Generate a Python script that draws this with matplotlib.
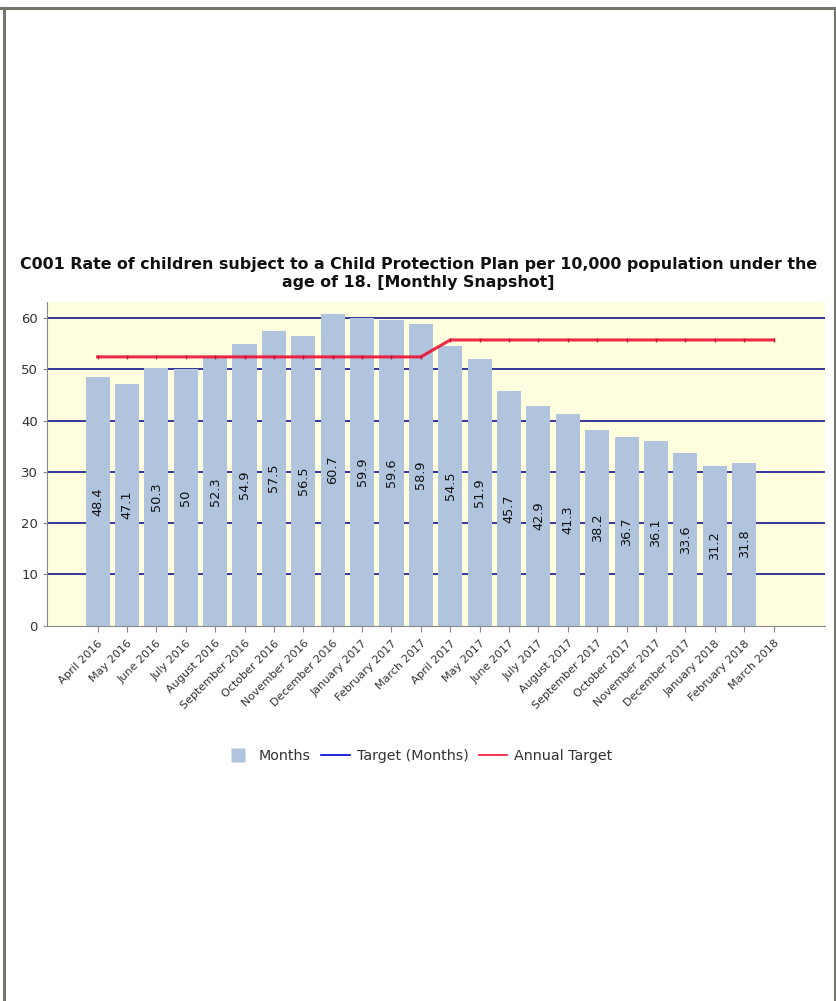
import matplotlib
matplotlib.use("Agg")
import matplotlib.pyplot as plt
from matplotlib.lines import Line2D

months = ["April 2016", "May 2016", "June 2016", "July 2016", "August 2016",
          "September 2016", "October 2016", "November 2016", "December 2016",
          "January 2017", "February 2017", "March 2017", "April 2017", "May 2017",
          "June 2017", "July 2017", "August 2017", "September 2017", "October 2017",
          "November 2017", "December 2017", "January 2018", "February 2018", "March 2018"]
values = [48.4, 47.1, 50.3, 50, 52.3, 54.9, 57.5, 56.5, 60.7, 59.9, 59.6, 58.9,
          54.5, 51.9, 45.7, 42.9, 41.3, 38.2, 36.7, 36.1, 33.6, 31.2, 31.8]
annual_target = [52.4] * 12 + [55.7] * 12
yticks = [0, 10, 20, 30, 40, 50, 60]
title = ("C001 Rate of children subject to a Child Protection Plan per 10,000 population under the\n"
         "age of 18. [Monthly Snapshot]")

W, H = 837, 1001
fig = plt.figure(figsize=(W / 100, H / 100), dpi=100)
fig.patch.set_facecolor("white")

ax = fig.add_axes([47 / W, 1 - 625.7 / H, (825 - 47) / W, (625.7 - 302) / H])
ax.set_facecolor("#ffffe0")

x = list(range(len(months)))
bx = x[:len(values)]
ax.bar(bx, values, width=0.82, color="#b0c4de", zorder=2)
for xi, v in zip(bx, values):
    ax.text(xi, v / 2, f"{v:g}", rotation=90, ha="center", va="center",
            fontsize=9.3, color="#111111", zorder=4)

ax.plot(x, annual_target, color="#ee1133", lw=2.2, zorder=3, alpha=0.9,
        marker="|", markersize=3.5, markeredgecolor="#bb1133", markeredgewidth=1)

for t in yticks[1:]:
    ax.axhline(t, color="#14148c", lw=1.2, zorder=1)

ax.set_xlim(-1.72, 24.75)
ax.set_ylim(0, 63.1)
ax.set_yticks(yticks)
ax.set_xticks(x)
ax.set_xticklabels(months, rotation=45, ha="right", rotation_mode="anchor",
                   fontsize=8.0, color="#333333")
ax.tick_params(axis="y", labelsize=9.5, labelcolor="#333333", length=3, color="#888888")
ax.tick_params(axis="x", length=4, color="#888888", pad=5)
for s in ["top", "right"]:
    ax.spines[s].set_visible(False)
for s in ["left", "bottom"]:
    ax.spines[s].set_color("#888888")

fig.text(0.5, 1 - 273.5 / H, title, ha="center", va="center", fontsize=11.4,
         fontweight="bold", color="#111111", linespacing=1.3)

handles = [Line2D([], [], marker="s", linestyle="none", markersize=10,
                  markerfacecolor="#b0c4de", markeredgecolor="none"),
           Line2D([], [], color="#0000dd", lw=1.2),
           Line2D([], [], color="#ee1133", lw=1.2)]
fig.legend(handles, ["Months", "Target (Months)", "Annual Target"],
           loc="center", bbox_to_anchor=(418 / W, 1 - 756 / H), ncol=3,
           frameon=False, fontsize=10.3, handlelength=2.0, handletextpad=0.5,
           columnspacing=0.7, labelcolor="#333333")

border = "#75766b"
fig.add_artist(Line2D([0, 1], [1 - 8 / H, 1 - 8 / H], color=border, lw=2.2,
                      transform=fig.transFigure))
fig.add_artist(Line2D([4 / W, 4 / W], [0, 1 - 8 / H], color=border, lw=2.2,
                      transform=fig.transFigure))
fig.add_artist(Line2D([835 / W, 835 / W], [0, 1 - 8 / H], color=border, lw=2.2,
                      transform=fig.transFigure))

fig.savefig("out.png", dpi=100)
